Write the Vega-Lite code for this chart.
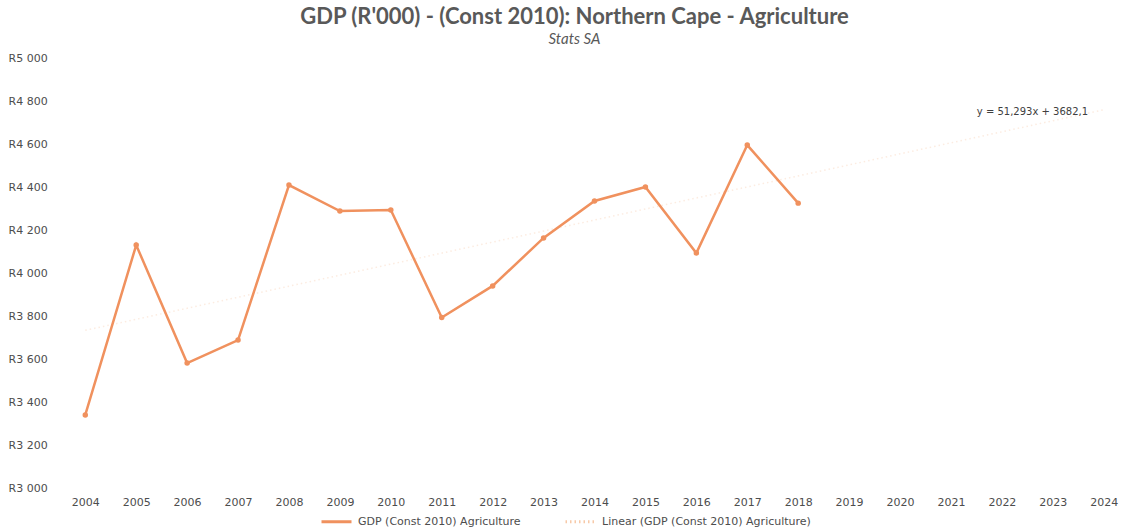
{
  "$schema": "https://vega.github.io/schema/vega-lite/v6.json",
  "width": 1049,
  "height": 430,
  "autosize": {"type": "none"},
  "padding": {"left": 70, "top": 58, "right": 4, "bottom": 43},
  "background": "white",
  "config": {"view": {"stroke": null}, "font": "DejaVu Sans"},
  "title": {
    "text": "GDP (R'000) - (Const 2010): Northern Cape - Agriculture",
    "subtitle": "Stats SA",
    "anchor": "middle",
    "dx": -20,
    "offset": 4,
    "font": "Lato",
    "fontSize": 22,
    "fontWeight": "bold",
    "color": "#595959",
    "subtitleFont": "Lato",
    "subtitleFontSize": 15,
    "subtitleFontStyle": "italic",
    "subtitleColor": "#595959",
    "subtitlePadding": 3
  },
  "datasets": {
    "gdp": [
      {"year": 2004, "value": 3340, "series": "GDP (Const 2010) Agriculture"},
      {"year": 2005, "value": 4130, "series": "GDP (Const 2010) Agriculture"},
      {"year": 2006, "value": 3581, "series": "GDP (Const 2010) Agriculture"},
      {"year": 2007, "value": 3688, "series": "GDP (Const 2010) Agriculture"},
      {"year": 2008, "value": 4409, "series": "GDP (Const 2010) Agriculture"},
      {"year": 2009, "value": 4288, "series": "GDP (Const 2010) Agriculture"},
      {"year": 2010, "value": 4293, "series": "GDP (Const 2010) Agriculture"},
      {"year": 2011, "value": 3793, "series": "GDP (Const 2010) Agriculture"},
      {"year": 2012, "value": 3940, "series": "GDP (Const 2010) Agriculture"},
      {"year": 2013, "value": 4163, "series": "GDP (Const 2010) Agriculture"},
      {"year": 2014, "value": 4335, "series": "GDP (Const 2010) Agriculture"},
      {"year": 2015, "value": 4400, "series": "GDP (Const 2010) Agriculture"},
      {"year": 2016, "value": 4093, "series": "GDP (Const 2010) Agriculture"},
      {"year": 2017, "value": 4595, "series": "GDP (Const 2010) Agriculture"},
      {"year": 2018, "value": 4325, "series": "GDP (Const 2010) Agriculture"}
    ],
    "trend": [
      {"year": 2004, "value": 3733.4, "series": "Linear (GDP (Const 2010) Agriculture)"},
      {"year": 2024, "value": 4759.3, "series": "Linear (GDP (Const 2010) Agriculture)"}
    ],
    "eq": [
      {"year": 2022.6, "value": 4750, "label": "y = 51,293x + 3682,1"}
    ]
  },
  "encoding": {
    "x": {
      "field": "year",
      "type": "quantitative",
      "scale": {"domain": [2003.7, 2024.3], "nice": false, "zero": false},
      "axis": {
        "title": null,
        "values": [2004, 2005, 2006, 2007, 2008, 2009, 2010, 2011, 2012, 2013, 2014, 2015, 2016, 2017, 2018, 2019, 2020, 2021, 2022, 2023, 2024],
        "format": "d",
        "grid": false,
        "domain": false,
        "ticks": false,
        "labelPadding": 8,
        "labelFontSize": 11,
        "labelColor": "#4d4d4d",
        "labelFont": "DejaVu Sans"
      }
    },
    "y": {
      "field": "value",
      "type": "quantitative",
      "scale": {"domain": [3000, 5000], "nice": false, "zero": false},
      "axis": {
        "title": null,
        "values": [3000, 3200, 3400, 3600, 3800, 4000, 4200, 4400, 4600, 4800, 5000],
        "labelExpr": "'R' + replace(format(datum.value, ','), ',', ' ')",
        "grid": false,
        "domain": false,
        "ticks": false,
        "labelAlign": "left",
        "labelPadding": 62,
        "labelFontSize": 11,
        "labelColor": "#4d4d4d",
        "labelFont": "DejaVu Sans"
      }
    }
  },
  "layer": [
    {
      "data": {"name": "trend"},
      "mark": {"type": "line", "strokeWidth": 1.5, "opacity": 0.35},
      "encoding": {
        "color": {
          "field": "series",
          "type": "nominal",
          "scale": {
            "domain": ["GDP (Const 2010) Agriculture", "Linear (GDP (Const 2010) Agriculture)"],
            "range": ["#f0915e", "#f7c9a8"]
          },
          "legend": {
            "title": null,
            "orient": "none",
            "legendX": 250,
            "legendY": 447,
            "direction": "horizontal",
            "symbolType": "stroke",
            "symbolSize": 900,
            "symbolStrokeWidth": 3,
            "symbolOpacity": 1,
            "labelFontSize": 11,
            "labelLimit": 0,
            "labelColor": "#4d4d4d",
            "labelFont": "DejaVu Sans",
            "columnPadding": 38,
            "labelOffset": 5
          }
        },
        "strokeDash": {
          "field": "series",
          "type": "nominal",
          "scale": {
            "domain": ["GDP (Const 2010) Agriculture", "Linear (GDP (Const 2010) Agriculture)"],
            "range": [[1, 0], [1.5, 3]]
          },
          "legend": null
        }
      }
    },
    {
      "data": {"name": "gdp"},
      "mark": {"type": "line", "strokeWidth": 2.5, "point": {"filled": true, "size": 30, "color": "#ee8550"}},
      "encoding": {
        "color": {"field": "series", "type": "nominal"}
      }
    },
    {
      "data": {"name": "eq"},
      "mark": {"type": "text", "fontSize": 10, "font": "DejaVu Sans", "color": "#404040", "align": "center", "baseline": "middle"},
      "encoding": {
        "text": {"field": "label"}
      }
    }
  ]
}
